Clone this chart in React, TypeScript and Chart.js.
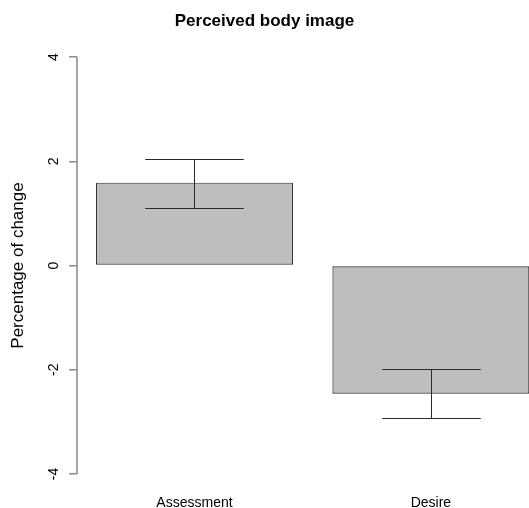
import { useEffect, useRef } from "react";
import { Chart, registerables } from "chart.js";

Chart.register(...registerables);

const categories = ["Assessment", "Desire"];
const means = [1.59, -2.46];
const errLower = [1.11, -2.93];
const errUpper = [2.04, -1.98];
const yTicks = [-4, -2, 0, 2, 4];
const titleText = "Perceived body image";
const yTitle = "Percentage of change";

// R barplot layout: bars of width 1 separated by 0.2
const barCenters = categories.map((_, i) => 0.7 + 1.2 * i);

const FONT = "'Liberation Sans', Arial, Helvetica, sans-serif";
const AXIS_COLOR = "#8a8a8a";

const errorBarPlugin = {
  id: "errorBars",
  afterDatasetsDraw(chart: any) {
    const ctx = chart.ctx;
    const meta = chart.getDatasetMeta(0);
    const y = chart.scales.y;
    ctx.save();
    ctx.strokeStyle = "#2a2a2a";
    ctx.lineWidth = 1;
    meta.data.forEach((bar: any, i: number) => {
      const x = Math.round(bar.x) + 0.5;
      const half = bar.width / 4;
      const yl = Math.round(y.getPixelForValue(errLower[i])) + 0.5;
      const yu = Math.round(y.getPixelForValue(errUpper[i])) + 0.5;
      ctx.beginPath();
      ctx.moveTo(x, yl);
      ctx.lineTo(x, yu);
      ctx.moveTo(x - half, yl);
      ctx.lineTo(x + half, yl);
      ctx.moveTo(x - half, yu);
      ctx.lineTo(x + half, yu);
      ctx.stroke();
    });
    const xL = chart.chartArea.left;
    ctx.strokeStyle = AXIS_COLOR;
    ctx.lineWidth = 1.5;
    ctx.beginPath();
    ctx.moveTo(xL, y.getPixelForValue(yTicks[0]));
    ctx.lineTo(xL, y.getPixelForValue(yTicks[yTicks.length - 1]));
    ctx.stroke();
    ctx.restore();
  },
};

export default function App() {
  const ref = useRef<HTMLCanvasElement>(null);
  useEffect(() => {
    if (!ref.current) return;
    const chart = new Chart(ref.current, {
      type: "bar",
      data: {
        datasets: [
          {
            data: barCenters.map((x, i) => ({ x, y: means[i] })),
            backgroundColor: "#bebebe",
            borderColor: "#333333",
            borderWidth: 1.2,
            borderSkipped: false,
            barPercentage: 1,
            categoryPercentage: 1 / 1.2,
          },
        ],
      },
      options: {
        responsive: false,
        animation: false,
        devicePixelRatio: 1,
        layout: { padding: 0 },
        plugins: {
          legend: { display: false },
          tooltip: { enabled: false },
          title: {
            display: true,
            text: titleText,
            color: "#000",
            font: { family: FONT, size: 17, weight: "bold" },
            padding: { top: 11.5, bottom: 8.5 },
          },
        },
        scales: {
          x: {
            type: "linear",
            offset: false,
            min: 0.1036,
            max: 2.398,
            grid: { display: false, offset: false },
            border: { display: false },
            afterBuildTicks: (scale: any) => {
              scale.ticks = barCenters.map((v) => ({ value: v }));
            },
            afterFit: (scale: any) => {
              scale.height = 17.4;
            },
            ticks: {
              autoSkip: false,
              maxRotation: 0,
              padding: -4,
              color: "#000",
              font: { family: FONT, size: 14 },
              callback: (_v: any, i: number) => categories[i],
            },
          },
          y: {
            type: "linear",
            min: -4.32,
            max: 4.32,
            afterBuildTicks: (scale: any) => {
              scale.ticks = yTicks.map((v) => ({ value: v }));
            },
            afterFit: (scale: any) => {
              scale.width = 77;
            },
            border: { display: false },
            grid: {
              drawOnChartArea: false,
              drawTicks: true,
              tickLength: 8,
              color: AXIS_COLOR,
              lineWidth: 1.5,
            },
            ticks: {
              minRotation: 90,
              maxRotation: 90,
              crossAlign: "center",
              padding: 9,
              color: "#000",
              font: { family: FONT, size: 14 },
              callback: (v: any) => String(v),
            },
            title: {
              display: true,
              text: yTitle,
              color: "#000",
              font: { family: FONT, size: 17 },
              padding: { top: 8, bottom: 0 },
            },
          },
        },
      },
      plugins: [errorBarPlugin],
    });
    return () => chart.destroy();
  }, []);
  return (
    <div style={{ position: "absolute", left: 0, top: 0, width: 529, height: 508, background: "#fff" }}>
      <canvas ref={ref} width={529} height={508} style={{ display: "block" }} />
    </div>
  );
}
